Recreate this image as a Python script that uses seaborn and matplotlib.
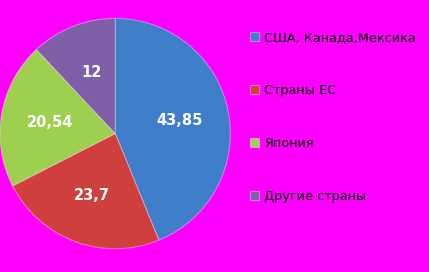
import matplotlib
matplotlib.use("Agg")
import matplotlib.pyplot as plt
import seaborn as sns

# =============================
# DATA
# =============================
regions = ["США, Канада,Мексика", "Страны ЕС", "Япония", "Другие страны"]
shares = [43.85, 23.7, 20.54, 12]
share_labels = ["43,85", "23,7", "20,54", "12"]

# =============================
# STYLE
# =============================
sns.set_theme(style="white")
plt.rcParams["font.family"] = ["DejaVu Sans"]

colors = sns.color_palette(["#3f7fca", "#cf3f3d", "#9fcf4f", "#7f5fa7"])
bg = "#ff00ff"

fig = plt.figure(figsize=(4.29, 2.72), dpi=100, facecolor=bg)
ax = fig.add_axes([0.0, 0.085, 0.537, 0.848])
ax.set_facecolor(bg)

labels_iter = iter(share_labels)
wedges, texts, autotexts = ax.pie(
    shares,
    colors=colors,
    startangle=90,
    counterclock=False,
    autopct=lambda p: next(labels_iter),
    pctdistance=0.57,
    wedgeprops=dict(edgecolor=(1, 1, 1, 0.35), linewidth=0.8),
    textprops=dict(color="white", fontsize=10.5, fontweight="bold"),
)
ax.set_xlim(-1.0, 1.0)
ax.set_ylim(-1.0, 1.0)
ax.set_aspect("equal")

# =============================
# LEGEND
# =============================
fig.legend(
    wedges, regions,
    loc="upper left",
    bbox_to_anchor=(0.555, 0.928),
    frameon=False,
    fontsize=9.3,
    handlelength=0.7,
    handleheight=0.7,
    handletextpad=0.4,
    labelspacing=3.08,
    labelcolor="black",
)

fig.savefig("out.png", dpi=100, facecolor=bg)
plt.close(fig)
